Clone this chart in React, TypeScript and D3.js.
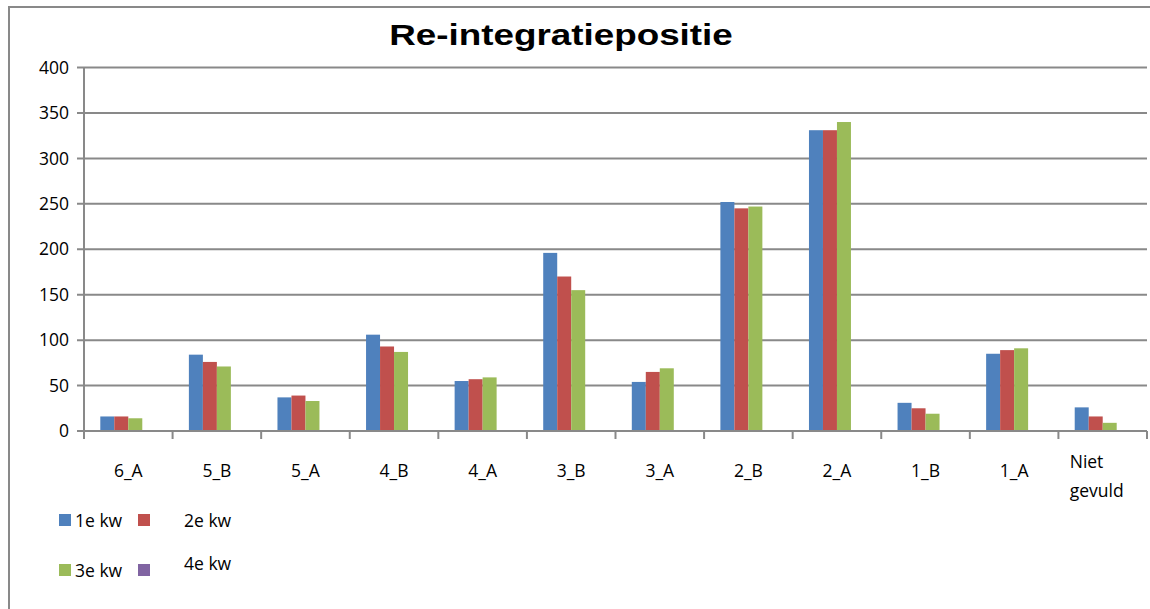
import React from "react";
import * as d3 from "d3";

const categories = ["6_A", "5_B", "5_A", "4_B", "4_A", "3_B", "3_A", "2_B", "2_A", "1_B", "1_A", "Niet gevuld"];
const seriesNames = ["1e kw", "2e kw", "3e kw", "4e kw"];
const kw1 = [16, 84, 37, 106, 55, 196, 54, 252, 331, 31, 85, 26];
const kw2 = [16, 76, 39, 93, 57, 170, 65, 245, 331, 25, 89, 16];
const kw3 = [14, 71, 33, 87, 59, 155, 69, 247, 340, 19, 91, 9];
const kw4: number[] = [];
const seriesValues = [kw1, kw2, kw3, kw4];
const colors = ["#4F81BD", "#C0504D", "#9BBB59", "#8064A2"];
const yTicks = [0, 50, 100, 150, 200, 250, 300, 350, 400];

const FONT = "'Open Sans', sans-serif";
const FS = 17.5;
const GRID = "#898989";

export default function App() {
  const left = 84;
  const right = 1147;
  const top = 67.5;
  const bottom = 431;

  const x0 = d3.scaleBand<string>().domain(categories).range([left, right]).paddingInner(0).paddingOuter(0);
  const bw = x0.bandwidth();
  const gap = bw * 0.368;
  const x1 = d3.scaleBand<string>().domain(seriesNames).range([gap / 2, bw - gap / 2]).padding(0);
  const y = d3.scaleLinear().domain([0, 400]).range([bottom, top]);

  const boundaries = categories.map((c) => x0(c) as number).concat([right]);

  const legend = [
    { name: "1e kw", sq: [59, 514], text: [75, 527] },
    { name: "2e kw", sq: [138, 514], text: [184, 527] },
    { name: "3e kw", sq: [59, 564], text: [75, 577] },
    { name: "4e kw", sq: [138, 564], text: [184, 570] },
  ];

  return (
    <svg
      width={1150}
      height={609}
      style={{ position: "absolute", left: 0, top: 0, background: "#fff" }}
    >
      <rect x={0} y={0} width={1150} height={609} fill="#fff" />
      <rect x={9} y={7} width={1300} height={800} fill="#fff" stroke={GRID} strokeWidth={2} />
      <g transform="translate(561,45) scale(1.27,1)">
        <text
          x={0}
          y={0}
          textAnchor="middle"
          fontFamily="'Liberation Sans', Arial, sans-serif"
          fontWeight="bold"
          fontSize={29}
          fill="#000"
        >
          Re-integratiepositie
        </text>
      </g>

      {/* gridlines */}
      {yTicks.map((t) => (
        <g key={t}>
          <line x1={left - 7} x2={right} y1={y(t)} y2={y(t)} stroke={GRID} strokeWidth={2} />
          <text
            x={69}
            y={y(t)}
            dy="0.35em"
            textAnchor="end"
            fontFamily={FONT}
            fontSize={FS}
            fill="#000"
          >
            {t}
          </text>
        </g>
      ))}

      {/* y axis */}
      <line x1={left} x2={left} y1={top} y2={bottom + 1} stroke={GRID} strokeWidth={2} />

      {/* bars */}
      {seriesValues.map((vals, si) =>
        vals.map((v, ci) => (
          <rect
            key={`${si}-${ci}`}
            x={(x0(categories[ci]) as number) + (x1(seriesNames[si]) as number)}
            y={y(v)}
            width={x1.bandwidth()}
            height={bottom - y(v)}
            fill={colors[si]}
          />
        ))
      )}

      {/* x axis */}
      <line x1={left} x2={right} y1={bottom} y2={bottom} stroke={GRID} strokeWidth={2} />
      {boundaries.map((b, i) => (
        <line key={i} x1={b} x2={b} y1={bottom} y2={bottom + 8} stroke={GRID} strokeWidth={2} />
      ))}

      {/* x labels */}
      {categories.map((c) => {
        const cx = (x0(c) as number) + bw / 2;
        if (c === "Niet gevuld") {
          return (
            <text key={c} fontFamily={FONT} fontSize={FS} fill="#000">
              <tspan x={cx - 33} y={468}>Niet</tspan>
              <tspan x={cx - 33} y={497}>gevuld</tspan>
            </text>
          );
        }
        return (
          <text key={c} x={cx} y={477} textAnchor="middle" fontFamily={FONT} fontSize={FS} fill="#000">
            {c}
          </text>
        );
      })}

      {/* legend */}
      {legend.map((l, i) => (
        <g key={l.name}>
          <rect x={l.sq[0]} y={l.sq[1]} width={12} height={12} fill={colors[i]} />
          <text x={l.text[0]} y={l.text[1]} fontFamily={FONT} fontSize={FS} fill="#000">
            {l.name}
          </text>
        </g>
      ))}
    </svg>
  );
}
